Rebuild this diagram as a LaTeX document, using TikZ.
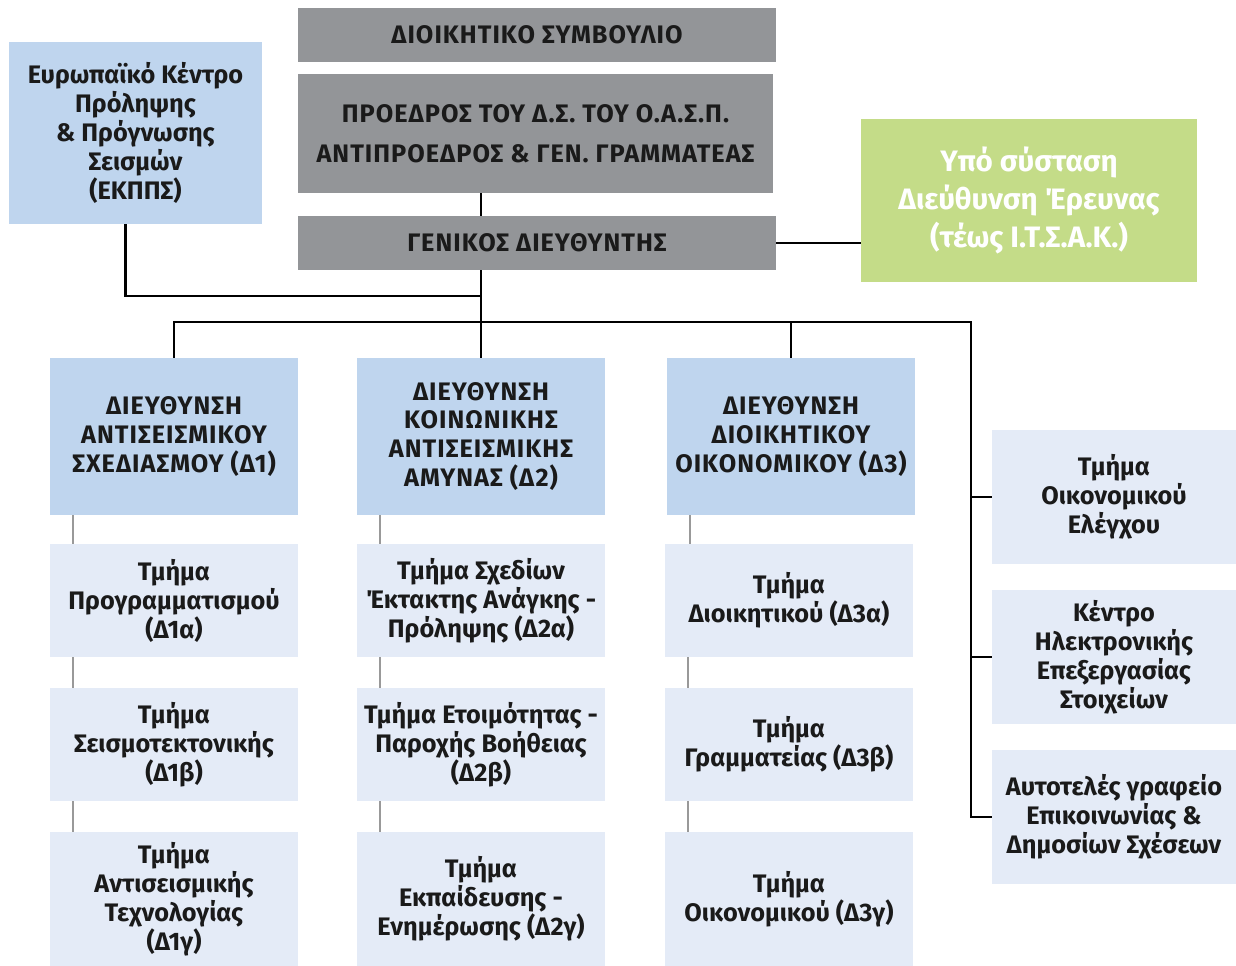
\documentclass[tikz,border=0pt]{standalone}
\usepackage{fontspec}
\setmainfont{Fira Sans}
\usetikzlibrary{positioning}

\definecolor{headgray}{HTML}{939598}
\definecolor{dirblue}{HTML}{BFD5EE}
\definecolor{deptblue}{HTML}{E4EBF7}
\definecolor{itsakgreen}{HTML}{C4DC88}
\definecolor{inktext}{HTML}{1A1A1A}

\tikzset{
	box/.style={inner sep=2pt,align=center,text=inktext,
		font=\fontsize{18}{20.6}\selectfont\bfseries},
	capsbox/.style={box,font=\fontsize{18}{20.6}\selectfont\bfseries\addfontfeature{LetterSpace=4}},
	headbox/.style={capsbox,fill=headgray,minimum width=11.95cm},
	dirbox/.style={capsbox,fill=dirblue,minimum width=6.2cm,minimum height=3.925cm},
	deptbox/.style={box,fill=deptblue,minimum width=6.2cm,minimum height=2.825cm},
	sidebox/.style={box,fill=deptblue,minimum width=6.1cm,minimum height=3.35cm},
	link/.style={draw=black,line width=1.8pt},
	sublink/.style={draw=gray!80,line width=1.5pt}
}

\begin{document}
\begin{tikzpicture}[x=0.025cm,y=-0.025cm]
	\useasboundingbox (0,0) rectangle (1236,966);

	% top management
	\node[headbox,minimum height=1.35cm] (board) at (537,35) {ΔΙΟΙΚΗΤΙΚΟ ΣΥΜΒΟΥΛΙΟ};
	\node[headbox,minimum width=11.875cm,minimum height=2.975cm] (pres) at (535.5,133.5)
		{ΠΡΟΕΔΡΟΣ ΤΟΥ Δ.Σ. ΤΟΥ Ο.Α.Σ.Π.\\[8pt]ΑΝΤΙΠΡΟΕΔΡΟΣ \& ΓΕΝ. ΓΡΑΜΜΑΤΕΑΣ};
	\node[headbox,minimum height=1.35cm] (gm) at (537,243) {ΓΕΝΙΚΟΣ ΔΙΕΥΘΥΝΤΗΣ};

	\node[box,fill=dirblue,minimum width=6.325cm,minimum height=4.55cm] (ekpps) at (135.5,133)
		{Ευρωπαϊκό Κέντρο\\Πρόληψης\\\& Πρόγνωσης\\Σεισμών\\(ΕΚΠΠΣ)};
	\node[box,fill=itsakgreen,text=white,minimum width=8.4cm,minimum height=4.075cm,
		font=\fontsize{21}{27}\selectfont\bfseries] (itsak) at (1029,200.5)
		{Υπό σύσταση\\Διεύθυνση Έρευνας\\(τέως Ι.Τ.Σ.Α.Κ.)};

	% directorates
	\node[dirbox] (d1) at (174,436.5) {ΔΙΕΥΘΥΝΣΗ\\ΑΝΤΙΣΕΙΣΜΙΚΟΥ\\ΣΧΕΔΙΑΣΜΟΥ (Δ1)};
	\node[dirbox] (d2) at (481,436.5) {ΔΙΕΥΘΥΝΣΗ\\ΚΟΙΝΩΝΙΚΗΣ\\ΑΝΤΙΣΕΙΣΜΙΚΗΣ\\ΑΜΥΝΑΣ (Δ2)};
	\node[dirbox] (d3) at (791,436.5) {ΔΙΕΥΘΥΝΣΗ\\ΔΙΟΙΚΗΤΙΚΟΥ\\ΟΙΚΟΝΟΜΙΚΟΥ (Δ3)};

	% departments
	\node[deptbox] (d1a) at (174,600.5) {Τμήμα\\Προγραμματισμού\\(Δ1α)};
	\node[deptbox] (d1b) at (174,744.5) {Τμήμα\\Σεισμοτεκτονικής\\(Δ1β)};
	\node[deptbox,minimum height=3.35cm] (d1c) at (174,899) {Τμήμα\\Αντισεισμικής\\Τεχνολογίας\\(Δ1γ)};

	\node[deptbox] (d2a) at (481,600.5) {Τμήμα Σχεδίων\\Έκτακτης Ανάγκης -\\Πρόληψης (Δ2α)};
	\node[deptbox] (d2b) at (481,744.5) {Τμήμα Ετοιμότητας -\\Παροχής Βοήθειας\\(Δ2β)};
	\node[deptbox,minimum height=3.35cm] (d2c) at (481,899) {Τμήμα\\Εκπαίδευσης -\\Ενημέρωσης (Δ2γ)};

	\node[deptbox] (d3a) at (789,600.5) {Τμήμα\\Διοικητικού (Δ3α)};
	\node[deptbox] (d3b) at (789,744.5) {Τμήμα\\Γραμματείας (Δ3β)};
	\node[deptbox,minimum height=3.35cm] (d3c) at (789,899) {Τμήμα\\Οικονομικού (Δ3γ)};

	\node[sidebox] (fin) at (1114,497) {Τμήμα\\Οικονομικού\\Ελέγχου};
	\node[sidebox] (kep) at (1114,657) {Κέντρο\\Ηλεκτρονικής\\Επεξεργασίας\\Στοιχείων};
	\node[sidebox] (comm) at (1114,817) {Αυτοτελές γραφείο\\Επικοινωνίας \&\\Δημοσίων Σχέσεων};

	% connectors
	\coordinate (hub) at (481,296);
	\coordinate (bus) at (971,322);
	\draw[link] (pres.south -| d2.north) -- (gm.north -| d2.north);
	\draw[link] (gm.south -| d2.north) -- (d2.north);
	\draw[link] ([xshift=-0.25cm]ekpps.south) |- (hub);
	\draw[link] (gm.east) -- (gm.east -| itsak.west);
	\draw[link] (d1.north) |- (bus) |- (comm.west);
	\draw[link] (d3.north) -- (d3.north |- bus);
	\draw[link] (bus |- fin.west) -- (fin.west);
	\draw[link] (bus |- kep.west) -- (kep.west);

	\foreach \top/\low in {d1/d1a,d1a/d1b,d1b/d1c,d2/d2a,d2a/d2b,d2b/d2c,d3/d3a,d3a/d3b,d3b/d3c}
		\draw[sublink] ([xshift=0.575cm]\top.south west) -- ([xshift=0.575cm]\top.south west |- \low.north);
\end{tikzpicture}
\end{document}
